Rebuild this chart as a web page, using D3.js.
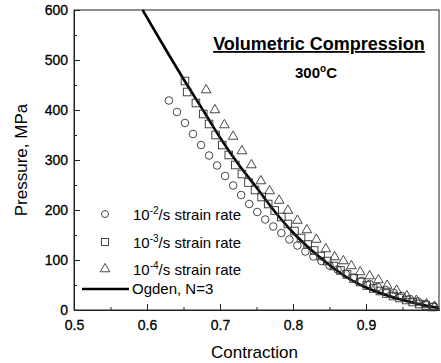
<!DOCTYPE html>
<html>
<head>
<meta charset="utf-8">
<script src="https://cdn.jsdelivr.net/npm/d3@7"></script>
<style>
  body { margin: 0; background: #fff; }
  svg { display: block; font-family: "Liberation Sans", Arial, sans-serif; }
</style>
</head>
<body>
<div id="chart"></div>
<script>
// Ogden fit, N=3
const ogdenC = [0.594, 0.62, 0.65, 0.68, 0.70, 0.725, 0.75, 0.775, 0.80, 0.825, 0.85, 0.875, 0.90, 0.925, 0.95, 0.975, 1.0];
const ogdenP = [600, 535, 462, 392, 345, 292, 245, 197, 155, 120, 90, 64, 45, 31, 20, 11, 4];

// 10^-2 /s
const rate2C = [0.630, 0.641, 0.652, 0.663, 0.674, 0.685, 0.696, 0.707, 0.718, 0.729, 0.740, 0.751, 0.762, 0.773, 0.784, 0.795, 0.806, 0.817, 0.828, 0.839, 0.850, 0.861, 0.872, 0.883, 0.894, 0.905, 0.916, 0.927, 0.938, 0.949, 0.960, 0.971, 0.982, 0.993];
const rate2P = [419, 396, 374, 352, 330, 309, 289, 268, 249, 230, 212, 196, 181, 167, 154, 141, 129, 117, 107, 98, 89, 81, 73, 65, 58, 52, 46, 40, 34, 28, 22, 17, 12, 7];

// 10^-3 /s
const rate3C = [0.652, 0.655, 0.667, 0.677, 0.685, 0.694, 0.703, 0.712, 0.721, 0.730, 0.739, 0.748, 0.757, 0.766, 0.775, 0.784, 0.793, 0.802, 0.811, 0.820, 0.829, 0.838, 0.847, 0.856, 0.865, 0.874, 0.883, 0.892, 0.901, 0.910, 0.919, 0.928, 0.937, 0.946, 0.955, 0.964, 0.973, 0.982, 0.991];
const rate3P = [458, 436, 414, 392, 372, 350, 330, 310, 290, 272, 255, 240, 226, 212, 199, 186, 172, 158, 144, 131, 119, 108, 98, 88, 79, 71, 63, 56, 49, 43, 38, 33, 28, 24, 20, 16, 12, 9, 6];

// 10^-4 /s
const rate4C = [0.681, 0.693, 0.706, 0.718, 0.730, 0.743, 0.756, 0.768, 0.781, 0.793, 0.806, 0.819, 0.832, 0.845, 0.857, 0.869, 0.880, 0.892, 0.905, 0.917, 0.929, 0.942, 0.956, 0.969, 0.983, 0.994];
const rate4P = [440, 400, 370, 347, 318, 290, 258, 238, 219, 199, 179, 160, 141, 122, 106, 98, 88, 76, 68, 60, 49, 39, 28, 19, 12, 7];

const xTicks = [0.5, 0.6, 0.7, 0.8, 0.9];
const xMinor = [0.55, 0.65, 0.75, 0.85, 0.95];
const yTicks = [0, 100, 200, 300, 400, 500, 600];
const yMinor = [50, 150, 250, 350, 450, 550];
const legendExp = ["-2", "-3", "-4"];

const W = 441, H = 363;
const margin = {top: 10, right: 2, bottom: 53, left: 74};
const width = W - margin.left - margin.right;
const height = H - margin.top - margin.bottom;

const svg = d3.select("#chart").append("svg")
  .attr("width", W)
  .attr("height", H);

const g = svg.append("g")
  .attr("transform", "translate(" + margin.left + "," + margin.top + ")");

const x = d3.scaleLinear().domain([0.5, 1.0]).range([0, width]);
const y = d3.scaleLinear().domain([0, 600]).range([height, 0]);

// frame
g.append("rect")
  .attr("width", width)
  .attr("height", height)
  .attr("fill", "none")
  .attr("stroke", "#222")
  .attr("stroke-width", 1);

// x axis, ticks point inward
g.append("g")
  .attr("transform", "translate(0," + height + ")")
  .call(d3.axisBottom(x).tickValues(xTicks).tickSizeInner(-6).tickSizeOuter(0).tickPadding(10).tickFormat(d3.format(".1f")));
g.append("g")
  .attr("transform", "translate(0," + height + ")")
  .call(d3.axisBottom(x).tickValues(xMinor).tickSizeInner(-3).tickSizeOuter(0).tickFormat(""));

g.append("g")
  .call(d3.axisLeft(y).tickValues(yTicks).tickSizeInner(-6).tickSizeOuter(0).tickPadding(6));
g.append("g")
  .call(d3.axisLeft(y).tickValues(yMinor).tickSizeInner(-3).tickSizeOuter(0).tickFormat(""));

g.selectAll(".domain").attr("stroke", "#222");
g.selectAll(".tick line").attr("stroke", "#222");
g.selectAll(".tick text")
  .attr("fill", "#000")
  .attr("stroke", "#000")
  .attr("stroke-width", 0.3)
  .style("font-size", "14px")
  .style("font-family", "'Liberation Sans', Arial, sans-serif");

// axis titles
svg.append("text")
  .attr("x", margin.left + width / 2 - 2)
  .attr("y", 358)
  .attr("text-anchor", "middle")
  .style("font-size", "17px")
  .text("Contraction");

svg.append("text")
  .attr("transform", "translate(27," + (margin.top + height / 2) + ") rotate(-90)")
  .attr("text-anchor", "middle")
  .style("font-size", "17px")
  .text("Pressure, MPa");

// title block
svg.append("text")
  .attr("x", 319)
  .attr("y", 50)
  .attr("text-anchor", "middle")
  .style("font-size", "18px")
  .style("font-weight", "bold")
  .style("text-decoration", "underline")
  .text("Volumetric Compression");

const temp = svg.append("text")
  .attr("x", 316)
  .attr("y", 78)
  .attr("text-anchor", "middle")
  .style("font-size", "15px")
  .style("font-weight", "bold");
temp.append("tspan").text("300");
temp.append("tspan").attr("dy", -6).style("font-size", "10px").text("o");
temp.append("tspan").attr("dy", 6).text("C");

// Ogden curve
const line = d3.line()
  .x((d, i) => x(ogdenC[i]))
  .y(d => y(d))
  .curve(d3.curveMonotoneX);

g.append("path")
  .datum(ogdenP)
  .attr("fill", "none")
  .attr("stroke", "#000")
  .attr("stroke-width", 2.6)
  .attr("d", line);

const mark = {fill: "none", stroke: "#333", width: 0.9};

// circles
g.selectAll(".c2")
  .data(rate2P)
  .enter()
  .append("circle")
  .attr("cx", (d, i) => x(rate2C[i]))
  .attr("cy", d => y(d))
  .attr("r", 3.8)
  .attr("fill", mark.fill)
  .attr("stroke", mark.stroke)
  .attr("stroke-width", mark.width);

// squares
g.selectAll(".c3")
  .data(rate3P)
  .enter()
  .append("rect")
  .attr("x", (d, i) => x(rate3C[i]) - 3.8)
  .attr("y", d => y(d) - 3.8)
  .attr("width", 7.6)
  .attr("height", 7.6)
  .attr("fill", mark.fill)
  .attr("stroke", mark.stroke)
  .attr("stroke-width", mark.width);

// triangles
const tri = d3.symbol().type(d3.symbolTriangle).size(40);
g.selectAll(".c4")
  .data(rate4P)
  .enter()
  .append("path")
  .attr("d", tri)
  .attr("transform", (d, i) => "translate(" + x(rate4C[i]) + "," + y(d) + ")")
  .attr("fill", mark.fill)
  .attr("stroke", mark.stroke)
  .attr("stroke-width", mark.width);

// legend
const lx = 105, ly = [214, 242, 269];
const leg = svg.append("g");
leg.append("circle").attr("cx", lx).attr("cy", ly[0]).attr("r", 3.5)
  .attr("fill", "none").attr("stroke", mark.stroke).attr("stroke-width", mark.width);
leg.append("rect").attr("x", lx - 3.5).attr("y", ly[1] - 3.5).attr("width", 7).attr("height", 7)
  .attr("fill", "none").attr("stroke", mark.stroke).attr("stroke-width", mark.width);
leg.append("path").attr("d", tri).attr("transform", "translate(" + lx + "," + ly[2] + ")")
  .attr("fill", "none").attr("stroke", mark.stroke).attr("stroke-width", mark.width);

legendExp.forEach((e, i) => {
  const t = leg.append("text")
    .attr("x", 133)
    .attr("y", ly[i] + 6)
    .style("font-size", "15px");
  t.append("tspan").text("10");
  t.append("tspan").attr("dy", -6).style("font-size", "10px").text(e);
  t.append("tspan").attr("dy", 6).text("/s strain rate");
});

leg.append("line")
  .attr("x1", 82).attr("x2", 129)
  .attr("y1", 289).attr("y2", 289)
  .attr("stroke", "#000").attr("stroke-width", 2.6);
leg.append("text")
  .attr("x", 132)
  .attr("y", 294)
  .style("font-size", "15px")
  .text("Ogden, N=3");
</script>
</body>
</html>
